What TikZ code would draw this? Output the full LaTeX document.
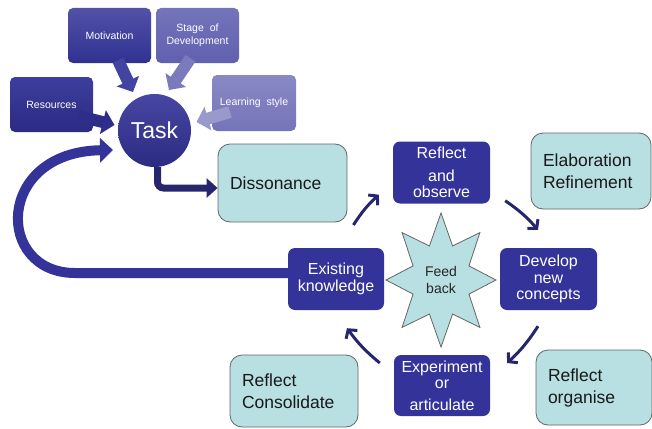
\documentclass[tikz,border=0pt]{standalone}
\usepackage{fontspec}
\setmainfont{Liberation Sans}
\usetikzlibrary{arrows.meta,calc}

\definecolor{navy}{HTML}{333399}
\definecolor{darkarrow}{HTML}{26266F}
\definecolor{paleteal}{HTML}{B8DFE1}
\definecolor{boxedge}{HTML}{5E6868}

\begin{document}
\begin{tikzpicture}[x=1pt,y=-1pt,
  topbox/.style={rounded corners=5pt, minimum width=83pt, minimum height=55pt,
    align=center, text=white, inner sep=2pt,
    font=\fontsize{10.5}{12.5}\selectfont},
  cyclebox/.style={fill=navy, rounded corners=7pt, minimum width=97pt,
    minimum height=62pt, align=center, text=white, inner sep=2pt,
    font=\fontsize{16}{16.5}\selectfont},
  notebox/.style={fill=paleteal, draw=boxedge, line width=0.8pt,
    rounded corners=12pt, align=left, inner xsep=12pt, text=black!90,
    font=\fontsize{17.5}{22}\selectfont},
  blockarrow/.style={line width=12pt, -{Triangle[length=12pt,width=24pt]}},
  cyclearrow/.style={draw=darkarrow, line width=3pt, bend left=7,
    -{Straight Barb[length=6pt,width=14pt]}},
  starshape/.style={fill=paleteal, draw=black!60, line width=0.8pt, line join=miter}
]
\useasboundingbox (0,0) rectangle (652,428);

% factors feeding into the task
\node[topbox, top color=navy!85!white, bottom color=navy!95!black] (mot) at (109.5,35.5) {Motivation};
\node[topbox, top color=navy!68!white, bottom color=navy!78!white] (stage) at (197.5,35.5) {Stage\ \ of\\Development};
\node[topbox, top color=navy!95!white, bottom color=navy!85!black] (res) at (51.5,104.5) {Resources};
\node[topbox, top color=navy!58!white, bottom color=navy!68!white, minimum width=84pt, minimum height=56pt] (learn) at (254,103) {Learning\ \ style};

\node[circle, minimum size=73pt, inner sep=0pt, top color=navy!90!white, bottom color=navy!85!black,
      text=white, font=\fontsize{23}{25}\selectfont] (task) at (154.5,130.5) {Task};

\draw[blockarrow, draw=navy!92!white] ([shift={(8.5,-3)}]mot.south) -- ([shift={(-21.5,-38.5)}]task.center);
\draw[blockarrow, draw=navy!65!white] ([shift={(-7,-5)}]stage.south) -- ([shift={(14.5,-40.5)}]task.center);
\draw[blockarrow, draw=navy!90!black] ([shift={(27,11.5)}]res.center) -- ([shift={(-40,-5.5)}]task.center);
\draw[blockarrow, draw=navy!50!white] ([shift={(-24,9)}]learn.center) -- ([shift={(42,-8.5)}]task.center);

% learning cycle
\node[notebox, text width=105pt, minimum height=78pt] (diss) at (282.5,183) {Dissonance};
\node[cyclebox] (refl) at (441.5,172.5) {Reflect\\[6pt]and\\observe};
\node[notebox, text width=96pt, minimum height=76pt] (elab) at (591,171) {Elaboration\\Refinement};
\node[cyclebox] (dev) at (548.5,279) {Develop\\new\\concepts};
\node[cyclebox, minimum width=96pt] (exist) at (336,279) {Existing\\knowledge};
\node[cyclebox, minimum width=96pt, minimum height=61pt] (expr) at (442,385.5) {Experiment\\or\\[5pt]articulate};
\node[notebox, text width=104pt, minimum height=72pt] (cons) at (294,391) {Reflect\\Consolidate};
\node[notebox, text width=92pt, minimum height=75pt] (org) at (594,387.5) {Reflect\\organise};

% feedback star
\coordinate (fbc) at (441,280);
\draw[starshape] ($(fbc)+(90:55 and 67)$)
  \foreach \a [evaluate=\a as \r using {ifthenelse(mod(\a,2)==0,1,0.55)}] in {1,...,15}
    { -- ($(fbc)+({90+22.5*\a}:{55*\r} and {67*\r})$) } -- cycle;
\node[align=center, font=\fontsize{14}{17}\selectfont, text=black!85] (fb) at (fbc) {Feed\\back};

% task leads to dissonance
\draw[draw=darkarrow, line width=7pt, rounded corners=6pt, -{Triangle[length=11pt,width=19pt]}]
  ([xshift=3pt]task.south) |- ([yshift=-5pt]diss.west);

% cycle arrows
\draw[cyclearrow] ([shift={(6,42)}]diss.east) to ([shift={(-14,-9)}]refl.south west);
\draw[cyclearrow] ([shift={(15,-3)}]refl.south east) to ([shift={(-10.5,-18)}]dev.north);
\draw[cyclearrow] ([shift={(-10.5,16)}]dev.south) to ([shift={(17,-22.5)}]expr.east);
\draw[cyclearrow] ([shift={(-14,-22.5)}]expr.west) to ([shift={(11,18)}]exist.south);

% existing knowledge returns to the task
\draw[draw=navy, line width=10pt, -{Triangle[length=13pt,width=24pt]}]
  ([yshift=6pt]exist.west) -- (75,273) .. controls (-5,273) and (-5,152) .. ([shift={(-41.5,19.5)}]task.center);
\end{tikzpicture}
\end{document}
